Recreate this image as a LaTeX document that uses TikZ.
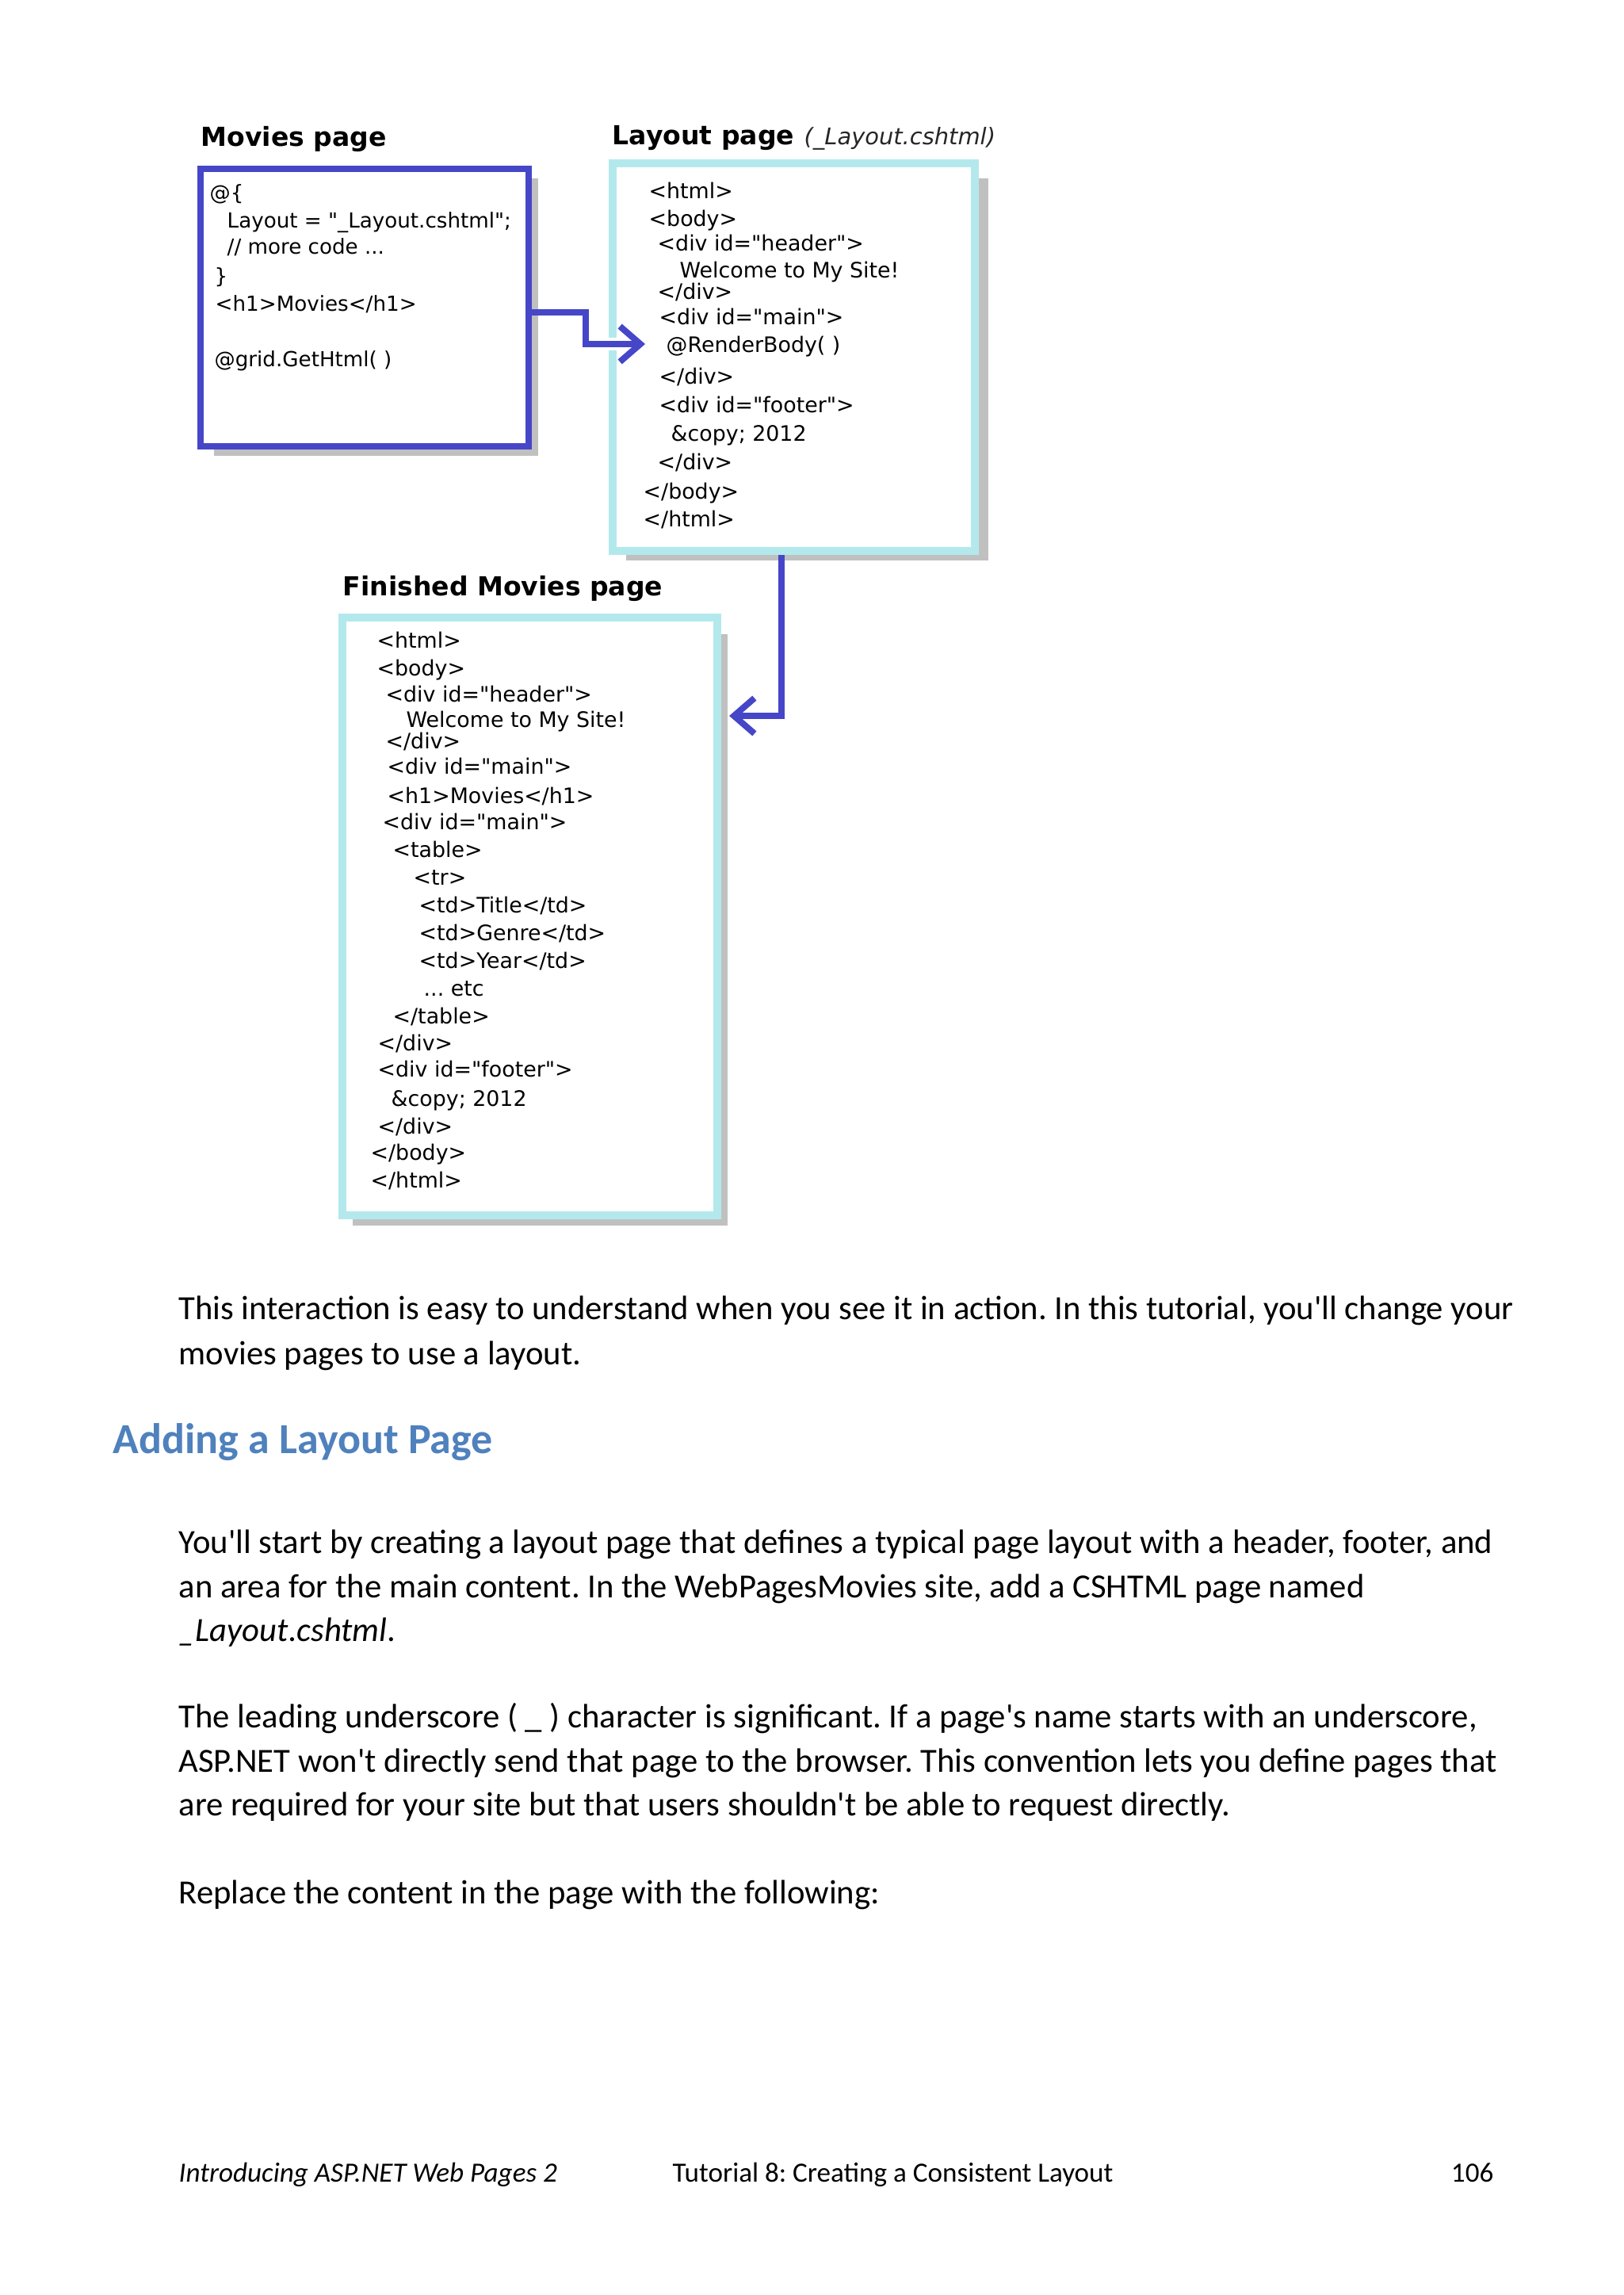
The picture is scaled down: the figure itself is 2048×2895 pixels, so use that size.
\documentclass[tikz,border=0pt]{standalone}
\usepackage{fontspec}
\setmainfont{Carlito}[Ligatures=TeXOff]
\newfontfamily\djv{DejaVu Sans}
\usetikzlibrary{arrows.meta}
\frenchspacing
\definecolor{arrowblue}{HTML}{4646C8}
\definecolor{boxcyan}{HTML}{B3E9ED}
\definecolor{shadowgray}{HTML}{C0C0C0}
\definecolor{headblue}{HTML}{4F81BD}
\tikzset{
  code/.style={anchor=mid west, inner sep=0pt, font=\djv\fontsize{7.6}{9}\selectfont},
  codeb/.style={anchor=mid west, inner sep=0pt, font=\djv\fontsize{7.8}{9}\selectfont},
  ttl/.style={anchor=base west, inner sep=0pt, font=\djv\bfseries\fontsize{9.6}{11}\selectfont},
  body/.style={anchor=mid west, inner sep=0pt, font=\fontsize{12.4}{14}\selectfont},
  foot/.style={anchor=mid west, inner sep=0pt, font=\fontsize{10.2}{12}\selectfont},
  moviebox/.style={draw=arrowblue, fill=white, line width=2.3pt, inner sep=0pt},
  cyanbox/.style={draw=boxcyan, fill=white, line width=3.0pt, inner sep=0pt},
  conn/.style={draw=arrowblue, line width=2.3pt, -{Straight Barb[length=7.5pt,width=13pt]}},
  gap/.style={draw=white, line width=4.6pt},
}
\begin{document}
\begin{tikzpicture}[x=0.29053pt, y=-0.29053pt]
\useasboundingbox (0,0) rectangle (2048,2895);
\fill[white] (0,0) rectangle (2048,2895);

% shadows
\fill[shadowgray] (270,225) rectangle (679,575);
\fill[shadowgray] (790,225) rectangle (1247,707);
\fill[shadowgray] (445,800) rectangle (918,1546);

% boxes
\node[moviebox, minimum width=414*0.29053pt, minimum height=350*0.29053pt] (movies) at (460,388) {};
\node[cyanbox, minimum width=457*0.29053pt, minimum height=489*0.29053pt] (layout) at (1001.5,450.5) {};
\node[cyanbox, minimum width=473*0.29053pt, minimum height=754*0.29053pt] (finished) at (668.5,1156) {};

% titles
\node[ttl] (t1) at (253,185) {Movies page};
\node[ttl] (t2) at (772,183) {Layout page};
\node[anchor=base west, inner sep=0pt, font=\djv\itshape\fontsize{8.4}{10}\selectfont, text=black!85] (t2b) at (1014,183) {(\_Layout.cshtml)};
\node[ttl] (t3) at (432,752) {Finished Movies page};

% movies code
\node[code] (m1) at (264,244) {@\{};
\node[code] (m2) at (286,279) {Layout = "\_Layout.cshtml";};
\node[code] (m3) at (286,312) {// more code ...};
\node[code] (m4) at (270,349) {\}};
\node[code] (m5) at (271,384) {<h1>Movies</h1>};
\node[code] (m6) at (270,454) {@grid.GetHtml( )};

% layout code
\node[codeb] (l1) at (818,242) {<html>};
\node[codeb] (l2) at (818,277) {<body>};
\node[codeb] (l3) at (829,308) {<div id="header">};
\node[codeb] (l4) at (857,342) {Welcome to My Site!};
\node[codeb] (l5) at (829,369) {</div>};
\node[codeb] (l6) at (831,401) {<div id="main">};
\node[codeb] (l7) at (840,436) {@RenderBody( )};
\node[codeb] (l8) at (831,476) {</div>};
\node[codeb] (l9) at (831,512) {<div id="footer">};
\node[codeb] (l10) at (846,548) {\&copy; 2012};
\node[codeb] (l11) at (829,584) {</div>};
\node[codeb] (l12) at (811,621) {</body>};
\node[codeb] (l13) at (811,656) {</html>};

% finished code
\node[codeb] (f1) at (475,809) {<html>};
\node[codeb] (f2) at (475,844) {<body>};
\node[codeb] (f3) at (486,877) {<div id="header">};
\node[codeb] (f4) at (512,909) {Welcome to My Site!};
\node[codeb] (f5) at (486,936) {</div>};
\node[codeb] (f6) at (488,968) {<div id="main">};
\node[codeb] (f7) at (488,1005) {<h1>Movies</h1>};
\node[codeb] (f8) at (482,1038) {<div id="main">};
\node[codeb] (f9) at (495,1073) {<table>};
\node[codeb] (f10) at (521,1108) {<tr>};
\node[codeb] (f11) at (528,1143) {<td>Title</td>};
\node[codeb] (f12) at (528,1178) {<td>Genre</td>};
\node[codeb] (f13) at (528,1213) {<td>Year</td>};
\node[codeb] (f14) at (534,1248) {... etc};
\node[codeb] (f15) at (495,1283) {</table>};
\node[codeb] (f16) at (476,1317) {</div>};
\node[codeb] (f17) at (476,1350) {<div id="footer">};
\node[codeb] (f18) at (493,1387) {\&copy; 2012};
\node[codeb] (f19) at (476,1422) {</div>};
\node[codeb] (f20) at (467,1455) {</body>};
\node[codeb] (f21) at (467,1490) {</html>};

% connectors
\coordinate (bend1) at (739,434);
\coordinate (tip1) at (814,434);
\draw[gap] (bend1) -- (tip1);
\draw[conn] ([yshift=-1.8pt]movies.east) -| (bend1) -- (tip1);
\coordinate (bend2) at (986,903);
\coordinate (tip2) at (920,903);
\draw[conn] (bend2 |- layout.south) -- (bend2) -- (tip2);

% body text
\node[body] (p1) at (225,1656) {This interaction is easy to understand when you see it in action. In this tutorial, you'll change your};
\node[body] (p2) at (225,1713) {movies pages to use a layout.};
\node[anchor=mid west, inner sep=0pt, font=\bfseries\fontsize{15.7}{18}\selectfont, text=headblue] (h1) at (142,1825) {Adding a Layout Page};
\node[body] (p3) at (225,1951) {You'll start by creating a layout page that defines a typical page layout with a header, footer, and};
\node[body] (p4) at (225,2007) {an area for the main content. In the WebPagesMovies site, add a CSHTML page named};
\node[body] (p5) at (225,2062) {\textit{\_Layout.cshtml}.};
\node[body] (p6) at (225,2171) {The leading underscore ( \_ ) character is significant. If a page's name starts with an underscore,};
\node[body] (p7) at (225,2227) {ASP.NET won't directly send that page to the browser. This convention lets you define pages that};
\node[body] (p8) at (225,2282) {are required for your site but that users shouldn't be able to request directly.};
\node[body] (p9) at (225,2393) {Replace the content in the page with the following:};

% footer
\node[foot] (ft1) at (225,2744) {\textit{Introducing ASP.NET Web Pages 2}};
\node[foot] (ft2) at (848,2744) {Tutorial 8: Creating a Consistent Layout};
\node[foot, anchor=mid east] (ft3) at (1885,2744) {106};
\end{tikzpicture}
\end{document}
